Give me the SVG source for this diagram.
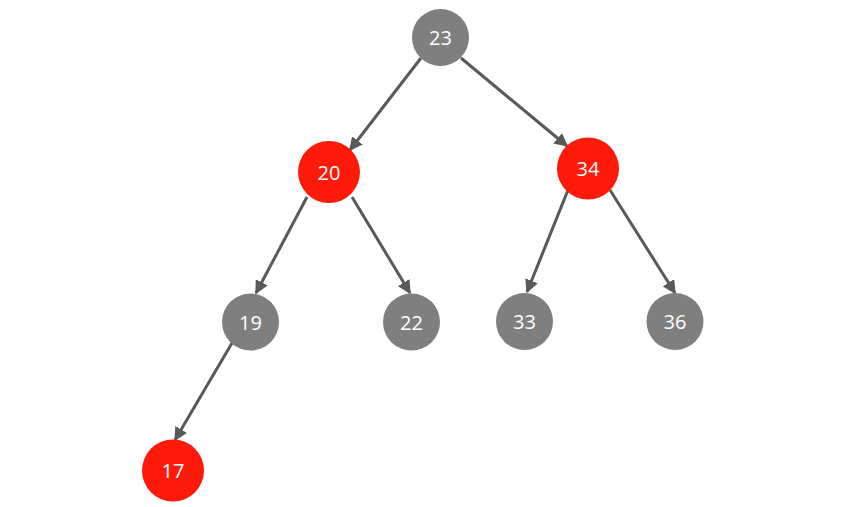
<svg xmlns="http://www.w3.org/2000/svg" width="865" height="507" viewBox="0 0 865 507">
<style>
.g{fill:#7f7f7f}
.r{fill:#fe1a0a}
.t{fill:#ffffff;font-family:"Open Sans","Liberation Sans",sans-serif;font-size:20px;text-anchor:middle;dominant-baseline:central}
.e{stroke:#595959;stroke-width:3;fill:none;marker-end:url(#a)}
</style>
<defs>
<marker id="a" viewBox="0 0 10 10" refX="9" refY="5" markerWidth="4.5" markerHeight="4.5" orient="auto" markerUnits="strokeWidth">
<path d="M0,0 L10,5 L0,10 z" fill="#595959"/>
</marker>
</defs>
<rect width="865" height="507" fill="#ffffff"/>
<g id="edges">
<line class="e" x1="421" y1="58" x2="350" y2="150"/>
<line class="e" x1="461" y1="58" x2="567" y2="146"/>
<line class="e" x1="307" y1="197" x2="256" y2="293"/>
<line class="e" x1="352" y1="197" x2="410" y2="293"/>
<line class="e" x1="568" y1="190" x2="527" y2="292"/>
<line class="e" x1="610" y1="190" x2="675" y2="293"/>
<line class="e" x1="232" y1="343" x2="175" y2="440"/>
</g>
<g id="n23"><circle class="g" cx="440.5" cy="37.5" r="28.5"/><text class="t" x="440.5" y="37.5">23</text></g>
<g id="n20"><circle class="r" cx="329" cy="172" r="31"/><text class="t" x="329" y="172">20</text></g>
<g id="n34"><circle class="r" cx="588" cy="168.5" r="31"/><text class="t" x="588" y="168.5">34</text></g>
<g id="n19"><circle class="g" cx="250.5" cy="322" r="28.5"/><text class="t" x="250.5" y="322">19</text></g>
<g id="n22"><circle class="g" cx="411.5" cy="322" r="28.5"/><text class="t" x="411.5" y="322">22</text></g>
<g id="n33"><circle class="g" cx="524.5" cy="321.5" r="28.5"/><text class="t" x="524.5" y="321.5">33</text></g>
<g id="n36"><circle class="g" cx="675" cy="321.5" r="28.5"/><text class="t" x="675" y="321.5">36</text></g>
<g id="n17"><circle class="r" cx="173" cy="470.5" r="31"/><text class="t" x="173" y="470.5">17</text></g>
</svg>
